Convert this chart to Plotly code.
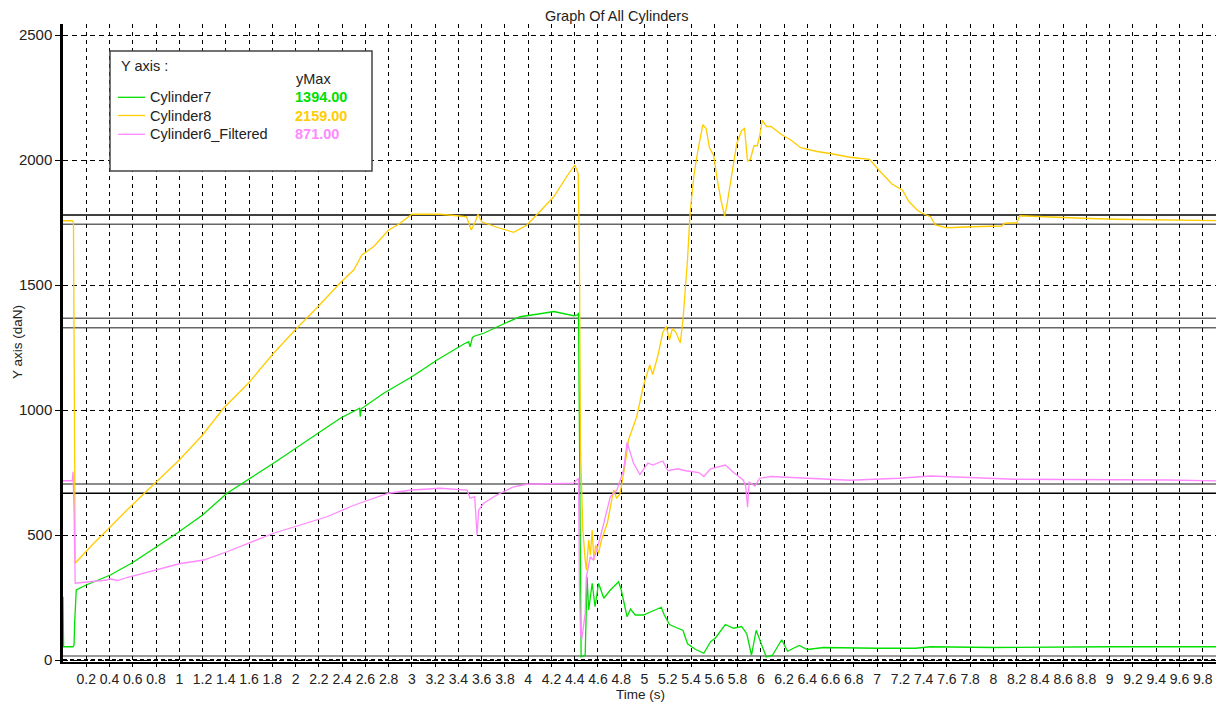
import plotly.graph_objects as go

# ---------------- data ----------------
t8 = [0.00, 0.08, 0.09, 0.095, 0.105, 0.13, 0.25, 0.38, 0.55, 0.79, 1.0, 1.2, 1.38, 1.6, 1.81, 2.01, 2.18,
      2.38, 2.50, 2.57, 2.67, 2.80, 2.89, 3.00, 3.24, 3.39, 3.47, 3.51, 3.545, 3.568, 3.60, 3.73, 3.875,
      3.99, 4.10, 4.22, 4.33, 4.40, 4.43, 4.44, 4.45, 4.47, 4.49, 4.50, 4.52, 4.535, 4.55, 4.565, 4.58,
      4.605, 4.63, 4.68, 4.735, 4.76, 4.79, 4.835, 4.862, 4.933, 4.99, 5.045, 5.07, 5.116, 5.158, 5.187,
      5.215, 5.24, 5.27, 5.308, 5.333, 5.37, 5.392, 5.426, 5.463, 5.502, 5.53, 5.559, 5.595, 5.624, 5.66,
      5.689, 5.708, 5.75, 5.793, 5.835, 5.86, 5.886, 5.91, 5.942, 5.97, 5.99, 6.013, 6.05, 6.088, 6.174,
      6.258, 6.343, 6.483, 6.596, 6.765, 6.935, 7.02, 7.13, 7.217, 7.273, 7.30, 7.344, 7.387, 7.46, 7.50,
      7.60, 7.81, 8.07, 8.10, 8.20, 8.227, 8.415, 8.76, 9.05, 9.69, 9.96]
cyl8 = [1757, 1757, 1750, 1200, 387, 400, 460, 520, 600, 707, 800, 900, 1007, 1110, 1227, 1327, 1407,
        1507, 1560, 1620, 1653, 1720, 1744, 1783, 1783, 1777, 1773, 1720, 1753, 1783, 1753, 1731, 1711,
        1740, 1793, 1853, 1933, 1980, 1947, 1640, 840, 520, 400, 360, 480, 420, 520, 400, 460,
        427, 480, 547, 680, 647, 665, 787, 880, 973, 1096, 1180, 1142, 1219, 1311, 1334,
        1280, 1326, 1311, 1268, 1372, 1603, 1788, 1942, 2049, 2141, 2126, 2049, 2018, 1926, 1834,
        1775, 1818, 1942, 2065, 2118, 2126, 1995, 2003, 2057, 2057, 2095, 2159, 2134, 2134, 2103,
        2080, 2049, 2034, 2026, 2011, 2003, 1957, 1903, 1880, 1834, 1820, 1800, 1787, 1773, 1740,
        1729, 1733, 1736, 1747, 1749, 1777, 1773, 1767, 1763, 1760, 1757]

t7 = [0.0, 0.005, 0.086, 0.095, 0.10, 0.114, 0.2, 0.407, 0.6, 0.98, 1.2, 1.41, 1.81, 2.21, 2.384, 2.55,
      2.556, 2.565, 2.757, 3.0, 3.216, 3.45, 3.488, 3.50, 3.52, 3.54, 3.617, 3.80, 3.93, 4.13, 4.22,
      4.39, 4.425, 4.433, 4.445, 4.455, 4.49, 4.506, 4.52, 4.55, 4.575, 4.605, 4.65, 4.706, 4.777, 4.80,
      4.85, 4.88, 4.92, 4.99, 5.07, 5.144, 5.17, 5.215, 5.286, 5.33, 5.37, 5.44, 5.51, 5.568, 5.61,
      5.695, 5.766, 5.835, 5.88, 5.92, 5.96, 6.005, 6.047, 6.10, 6.18, 6.23, 6.29, 6.33, 6.40, 6.54,
      7.0, 7.33, 7.46, 8.0, 9.0, 9.96]
cyl7 = [253, 53, 53, 60, 147, 280, 300, 340, 390, 507, 580, 667, 787, 913, 967, 1007,
        973, 1005, 1067, 1133, 1200, 1265, 1273, 1253, 1290, 1296, 1307, 1347, 1373, 1387, 1394,
        1377, 1380, 1389, 760, 13, 20, 333, 200, 307, 213, 307, 247, 280, 313, 280,
        173, 204, 180, 180, 196, 211, 180, 142, 127, 119, 65, 42, 27, 73, 88,
        142, 127, 134, 104, 19, 119, 65, 12, 19, 81, 35, 50, 58, 42, 50,
        47, 47, 53, 50, 53, 53]

t6 = [0.0, 0.08, 0.086, 0.095, 0.105, 0.2, 0.378, 0.40, 0.47, 0.55, 0.837, 1.0, 1.21, 1.41, 1.81, 2.27,
      2.47, 2.585, 2.80, 3.0, 3.244, 3.474, 3.50, 3.54, 3.56, 3.575, 3.617, 3.73, 3.875, 3.99, 4.39,
      4.433, 4.44, 4.45, 4.46, 4.49, 4.50, 4.534, 4.56, 4.59, 4.65, 4.706, 4.763, 4.82, 4.85, 4.905,
      4.96, 5.03, 5.07, 5.158, 5.2, 5.285, 5.355, 5.468, 5.51, 5.568, 5.695, 5.766, 5.85, 5.87, 5.886,
      5.90, 5.95, 5.99, 6.088, 6.37, 6.765, 7.19, 7.46, 8.18, 8.8, 9.5, 9.96]
cyl6 = [717, 717, 753, 600, 307, 312, 320, 325, 318, 330, 367, 385, 400, 433, 507, 573,
        613, 633, 667, 680, 687, 680, 647, 653, 500, 600, 627, 660, 693, 703, 707,
        727, 307, 107, 80, 187, 333, 413, 400, 440, 547, 653, 680, 760, 871, 788,
        742, 788, 780, 796, 757, 765, 757, 750, 734, 765, 780, 750, 719, 696, 611,
        711, 696, 727, 734, 727, 719, 727, 736, 723, 722, 720, 716]

series_names = ["Cylinder7", "Cylinder8", "Cylinder6_Filtered"]
series_colors = ["#00E000", "#FFCC00", "#FF88FF"]

limit_values = [1780, 1743, 1367, 1329, 704, 667, 16]
limit_colors = ["#000000", "#666666", "#666666", "#666666", "#666666", "#000000", "#777777"]

x_tick_values = [round(0.2 * i, 1) for i in range(1, 50)]
x_tick_labels = [f"{v:g}" for v in x_tick_values]
y_tick_values = [0, 500, 1000, 1500, 2000, 2500]

# ---------------- layout geometry (screen pixels; page body adds an 8px offset) ----------------
OFF = 8
W, H = 1224 - OFF, 705 - OFF
PL, PT, PW, PH = 63, 24, 1158, 638          # plot area on screen
X_RANGE = [0, PW / 116.3]
Y_RANGE = [-8, -8 + PH * 4]


def px(x):
    return (x - PL) / PW


def py(y):
    return (PT + PH - y) / PH


FONT = "Liberation Sans, Arial, sans-serif"
TXT = "#222222"

fig = go.Figure()
for tt, vv, name, col in [(t7, cyl7, series_names[0], series_colors[0]),
                          (t8, cyl8, series_names[1], series_colors[1]),
                          (t6, cyl6, series_names[2], series_colors[2])]:
    fig.add_trace(go.Scatter(x=tt, y=vv, mode="lines", name=name,
                             line=dict(color=col, width=1.3), showlegend=False))

shapes = []
for v, c in zip(limit_values, limit_colors):
    shapes.append(dict(type="line", xref="paper", yref="y", x0=0, x1=1, y0=v, y1=v,
                       line=dict(color=c, width=1.3), layer="below"))
# thick dashed zero line
shapes.append(dict(type="line", xref="paper", yref="y", x0=0, x1=1, y0=0, y1=0,
                   line=dict(color="#000000", width=2, dash="4px,3px"), layer="above"))

# legend box
shapes.append(dict(type="rect", xref="paper", yref="paper", x0=px(110), x1=px(372), y0=py(171), y1=py(51),
                   line=dict(color="#444444", width=1.5), fillcolor="white", layer="above"))
row_y = [97.3, 115.5, 134.3]
LEG = 14.5
annotations = [
    dict(text="Y axis :", x=px(119), y=py(66), xref="paper", yref="paper", xanchor="left", yanchor="middle",
         showarrow=False, font=dict(family=FONT, size=LEG, color=TXT)),
    dict(text="yMax", x=px(294), y=py(79), xref="paper", yref="paper", xanchor="left", yanchor="middle",
         showarrow=False, font=dict(family=FONT, size=LEG, color=TXT)),
]
for i, (name, col, vals) in enumerate(zip(series_names, series_colors, [cyl7, cyl8, cyl6])):
    ry = row_y[i]
    shapes.append(dict(type="line", xref="paper", yref="paper", x0=px(118), x1=px(145), y0=py(ry), y1=py(ry),
                       line=dict(color=col, width=1.3), layer="above"))
    annotations.append(dict(text=name, x=px(148), y=py(ry), xref="paper", yref="paper", xanchor="left",
                            yanchor="middle", showarrow=False, font=dict(family=FONT, size=LEG, color=TXT)))
    annotations.append(dict(text=f"<b>{max(vals):.2f}</b>", x=px(293), y=py(ry), xref="paper", yref="paper",
                            xanchor="left", yanchor="middle", showarrow=False,
                            font=dict(family=FONT, size=LEG, color=col)))

# titles
annotations.append(dict(text="Graph Of All Cylinders", x=px(616), y=py(16), xref="paper", yref="paper",
                        xanchor="center", yanchor="middle", showarrow=False,
                        font=dict(family=FONT, size=14.5, color=TXT)))
annotations.append(dict(text="Y axis (daN)", x=px(17), y=py(342), xref="paper", yref="paper",
                        xanchor="center", yanchor="middle", textangle=-90, showarrow=False,
                        font=dict(family=FONT, size=13.5, color=TXT)))
annotations.append(dict(text="Time (s)", x=px(640), y=py(694), xref="paper", yref="paper",
                        xanchor="center", yanchor="middle", showarrow=False,
                        font=dict(family=FONT, size=13.5, color=TXT)))

fig.update_layout(
    width=W, height=H,
    margin=dict(l=PL - OFF, r=W - (PL - OFF) - PW, t=PT - OFF, b=H - (PT - OFF) - PH, pad=0),
    paper_bgcolor="white", plot_bgcolor="white",
    showlegend=False,
    shapes=shapes, annotations=annotations,
    font=dict(family=FONT, size=14, color=TXT),
)
fig.update_xaxes(range=X_RANGE, tickvals=x_tick_values, ticktext=x_tick_labels,
                 showgrid=True, gridcolor="#000000", gridwidth=1, griddash="4px,4px",
                 showline=True, linecolor="#000000", linewidth=2, mirror=False,
                 ticks="outside", ticklen=3, tickcolor="#000000", zeroline=False,
                 tickfont=dict(family=FONT, size=14, color=TXT), tickangle=0)
fig.update_yaxes(range=Y_RANGE, tickvals=y_tick_values,
                 showgrid=True, gridcolor="#000000", gridwidth=1, griddash="5px,4px",
                 showline=True, linecolor="#000000", linewidth=2.5, mirror=False,
                 ticks="outside", ticklen=5, tickcolor="#000000", zeroline=False,
                 tickfont=dict(family=FONT, size=15, color=TXT))

fig.write_html("out.html")
